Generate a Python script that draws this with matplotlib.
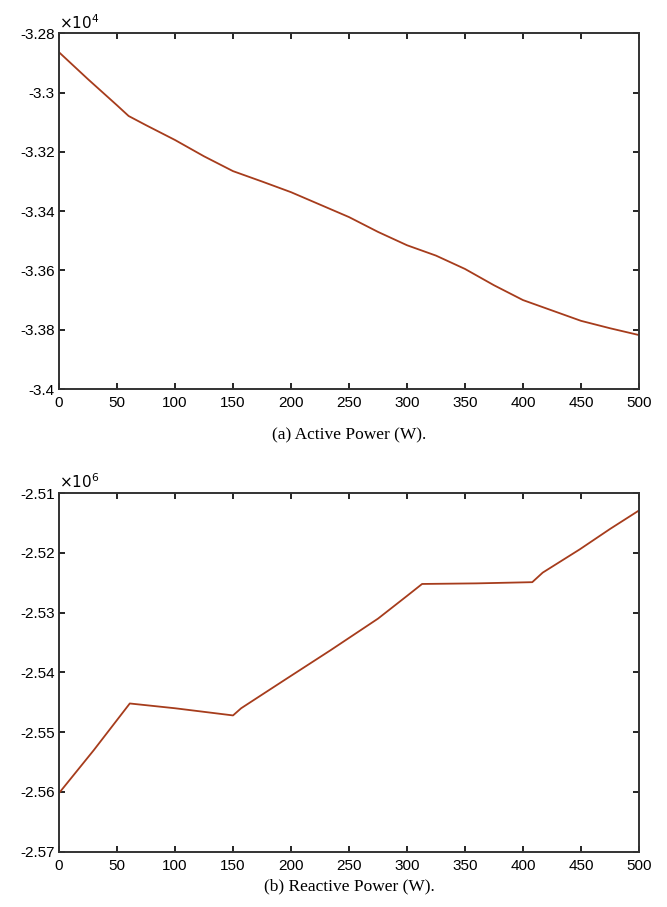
import matplotlib
matplotlib.use("Agg")
import matplotlib.pyplot as plt
import numpy as np
from matplotlib.ticker import FuncFormatter

plt.rcParams['font.family'] = ['Liberation Sans', 'DejaVu Sans']
plt.rcParams['axes.unicode_minus'] = False

# (a) Active power (x 1e4 W)
x_active = [0, 25, 50, 60, 75, 100, 125, 150, 175, 200, 225, 250, 275, 300,
            325, 350, 375, 400, 425, 450, 475, 500]
active = [-3.2864, -3.2955, -3.3043, -3.3079, -3.3110, -3.3160, -3.3215, -3.3265,
          -3.3300, -3.3336, -3.3378, -3.3420, -3.3470, -3.3515, -3.3550, -3.3595,
          -3.3650, -3.3700, -3.3735, -3.3770, -3.3795, -3.3818]

# (b) Reactive power (x 1e6 W)
x_reactive = [0, 30, 61, 100, 150, 157, 195, 234, 275, 300, 313, 360, 408, 417,
              449, 475, 500]
reactive = [-2.5602, -2.5530, -2.5452, -2.5460, -2.5472, -2.5460, -2.5412, -2.5363,
            -2.5310, -2.5272, -2.5252, -2.5251, -2.5249, -2.5233, -2.5194, -2.5160,
            -2.5129]

xticks = list(range(0, 501, 50))
yticks_a = [-3.4, -3.38, -3.36, -3.34, -3.32, -3.3, -3.28]
yticks_b = [-2.57, -2.56, -2.55, -2.54, -2.53, -2.52, -2.51]

line_color = '#a63c1c'
spine_color = '#333333'

fig = plt.figure(figsize=(6.67, 9.07), dpi=100)
ax1 = fig.add_axes([0.0885, 0.5711, 0.8695, 0.3922])
ax2 = fig.add_axes([0.0885, 0.0610, 0.8695, 0.3953])

def style(ax, yt, ylim, exp):
    ax.set_xlim(0, 500)
    ax.set_ylim(*ylim)
    ax.set_xticks(xticks)
    ax.set_yticks(yt)
    ax.yaxis.set_major_formatter(FuncFormatter(lambda v, p: ('%g' % round(v, 4))))
    ax.tick_params(direction='in', top=True, right=True, length=4, width=1.2,
                   labelsize=11, colors='black')
    ax.tick_params(axis='x', pad=5)
    ax.tick_params(axis='y', pad=3)
    for s in ax.spines.values():
        s.set_linewidth(1.4)
        s.set_color(spine_color)
    ax.text(0.0, 1.005, r'$\times 10^{%d}$' % exp, transform=ax.transAxes,
            fontsize=11, ha='left', va='bottom')

ax1.plot(np.array(x_active), np.array(active), color=line_color, lw=1.3)
style(ax1, yticks_a, (-3.4, -3.28), 4)
ax2.plot(np.array(x_reactive), np.array(reactive), color=line_color, lw=1.3)
style(ax2, yticks_b, (-2.57, -2.51), 6)

fig.text(0.5235, 0.5290, '(a) Active Power (W).', ha='center', va='top',
         fontsize=12.5, family=['Liberation Serif', 'DejaVu Serif'])
fig.text(0.5235, 0.0310, '(b) Reactive Power (W).', ha='center', va='top',
         fontsize=12.5, family=['Liberation Serif', 'DejaVu Serif'])

fig.savefig('out.png', dpi=100, facecolor='white')
